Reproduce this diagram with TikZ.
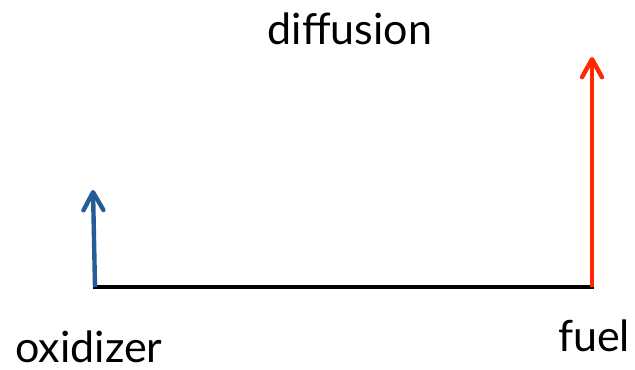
\documentclass[tikz,border=0pt]{standalone}
\usepackage{fontspec}
\setmainfont{Lato}
\usetikzlibrary{arrows.meta}
\definecolor{oxblue}{RGB}{38,92,150}
\definecolor{fuelred}{RGB}{255,40,0}

\begin{document}
\begin{tikzpicture}[x=0.5pt,y=-0.5pt,
  flux/.style={line width=2.2pt,-{Straight Barb[length=9pt,width=10pt,round]}},
  tag/.style={font=\fontsize{21.5}{24}\selectfont,anchor=base,inner sep=0pt}]
\useasboundingbox (0,0) rectangle (635,369);
\coordinate (ox) at (95,287);
\coordinate (fu) at (592,287);
\coordinate (oxtop) at (93,190);
\coordinate (futop) at (592,57);
\draw[line width=2pt,line cap=rect] (ox)--(fu);
\draw[flux,oxblue] (ox)--(oxtop);
\draw[flux,fuelred] (fu)--(futop);
\node[tag] (difflabel) at (350,45) {diffusion};
\node[tag] (oxlabel) at (89,362) {oxidizer};
\node[tag] (fuellabel) at (594,351) {fuel};
\end{tikzpicture}
\end{document}
